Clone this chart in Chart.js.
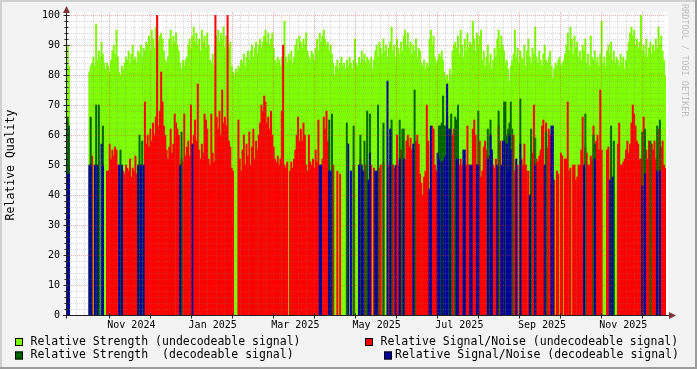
<!DOCTYPE html>
<html>
<head>
<meta charset="utf-8">
<title>Relative Quality</title>
<script src="https://cdn.jsdelivr.net/npm/chart.js@4.4.1/dist/chart.umd.min.js"></script>
<style>
  html, body { margin: 0; padding: 0; background: #f3f3f3; }
  canvas { display: block; }
</style>
</head>
<body>
<canvas id="qualityChart" width="697" height="369"></canvas>
<script>
// one value per day, index 0 = 2024-09-15 (null = no signal that day)
const strengthUndecoded = [
  90, 83, null, null, null, null, null, null, null, null,
  null, null, null, null, null, null, 81, 83, 84, 86,
  83, 97, 85, 88, 86, 91, 87, 84, 82, 84,
  83, 81, 85, 88, 90, 87, 95, 86, 81, 80,
  83, 82, 84, 86, 85, 88, 84, 87, 90, 85,
  86, 84, 88, 87, 90, 86, 89, 88, 91, 90,
  93, 88, 95, 92, 89, 96, 94, 91, 93, 94,
  92, 88, 85, 84, 86, 92, 95, 90, 93, 91,
  94, 90, 88, 84, 82, 85, 83, 85, 86, 90,
  92, 89, 93, 96, 91, 94, 90, 92, 88, 95,
  91, 93, 89, 94, 90, 85, 84, 87, 83, 90,
  93, 95, 91, 94, 92, 96, 89, 93, 90, 89,
  91, 83, 81, 80, 82, 81, 83, 82, 85, 84,
  87, 83, 86, 88, 85, 88, 90, 86, 89, 91,
  87, 90, 92, 89, 91, 93, 95, 91, 94, 90,
  92, 94, 89, 85, 84, 86, 85, 83, 86, 84,
  98, 86, 84, 87, 85, 88, 84, 86, 90, 92,
  88, 93, 91, 89, 92, 90, 94, 88, 86, 85,
  88, 87, 85, 89, 92, 88, 94, 91, 93, 95,
  92, 90, 91, 88, 90, 87, 84, 80, 83, 85,
  82, 84, 86, 83, 84, 82, 85, 83, 86, 84,
  82, 85, 92, 84, 83, 86, 84, 88, 85, 87,
  84, 86, 85, 84, 86, 82, 85, 88, 90, 86,
  91, 89, 87, 92, 88, 90, 86, 89, 91, 96,
  88, 90, 86, 92, 89, 87, 91, 88, 93, 95,
  90, 94, 89, 91, 87, 90, 88, 92, 86, 89,
  88, 84, 83, 85, 82, 84, 83, 92, 95, 90,
  93, 86, 84, 85, 87, 86, 88, 85, 81, 79,
  80, 78, 82, 80, 88, 90, 91, 89, 93, 87,
  95, 90, 86, 92, 88, 94, 89, 91, 90, 98,
  92, 88, 94, 90, 93, 95, 85, 88, 83, 86,
  90, 84, 87, 82, 85, 89, 86, 92, 95, 89,
  93, 90, 88, 84, 85, 82, 78, 83, 85, 87,
  95, 86, 89, 84, 88, 86, 85, 90, 83, 88,
  92, 86, 84, 89, 87, 96, 86, 84, 88, 85,
  83, 87, 90, 85, 84, 86, 88, 83, 79, 82,
  84, 83, 85, 86, 83, 84, 85, 87, 90, 94,
  88, 96, 92, 87, 93, 89, 91, 86, 88, 85,
  90, 88, 92, 84, 87, 83, 93, 86, 85, 88,
  84, 86, 83, 87, 98, 84, 86, 83, 88, 90,
  87, 91, 85, 88, 84, 86, 85, 83, 87, 84,
  86, 82, 85, 88, 91, 94, 96, 93, 95, 90,
  92, 89, 91, 100, 88, 90, 87, 92, 86, 89,
  91, 87, 90, 88, 92, 89, 96, 90, 93, 88,
  85, 80
];

const snrUndecoded = [
  61, null, null, null, null, null, null, null, null, null,
  null, null, null, null, null, null, null, null, 53, null,
  null, null, null, null, null, null, null, null, null, 48,
  48, 57, 52, 55, 53, 56, 55, 50, null, 48,
  null, 48, 47, 50, 49, 48, 52, 46, 49, 48,
  53, 47, null, 50, null, 49, null, 71, 57, 60,
  56, 62, 58, 64, 60, 66, 100, 63, 68, 81,
  71, 63, 60, 55, 52, 56, 62, 54, 57, 67,
  64, 62, 60, null, 52, 51, 67, 53, 56, 58,
  53, 70, null, 60, 65, 58, 77, 55, 52, 57,
  54, 67, 65, 62, 52, 50, 67, 54, 51, 100,
  66, 62, 68, 60, 75, 64, 66, 63, 100, 58,
  56, 49, 48, null, null, null, 65, 52, 48, 55,
  60, 50, 57, 53, 61, 50, 56, 62, 52, 58,
  55, 60, 64, 70, 68, 73, 71, 64, 66, 62,
  68, 60, 56, 52, 51, 53, 50, 52, 68, 90,
  50, 49, 51, null, 48, 51, 49, 52, 55, 60,
  66, 58, 62, 58, 64, 60, 50, 48, 60, 51,
  50, 52, 49, 55, 51, 65, null, null, 52, 66,
  62, 68, 58, null, null, 52, 50, null, null, 48,
  null, 47, null, null, null, null, null, null, null, null,
  null, 50, null, null, null, null, 52, null, null, null,
  50, null, null, null, 50, null, 49, null, null, 50,
  49, 50, null, 51, null, null, null, 50, null, null,
  50, 49, null, 60, 50, null, 55, 55, null, 52,
  58, 60, 56, 59, 55, null, null, 58, 60, 57,
  47, 44, 40, 46, 48, 70, 58, null, null, 63,
  62, 50, 48, null, null, null, null, null, null, null,
  null, null, null, null, 60, 62, null, null, null, 50,
  52, 50, null, null, 50, 63, 50, null, null, 62,
  65, 60, null, null, 58, 46, 48, 56, 58, 55,
  null, 53, null, null, 50, 49, 52, null, 63, 58,
  null, null, null, null, null, null, null, null, null, 60,
  48, null, 50, null, null, 52, 50, 57, 50, 48,
  48, null, 52, 54, 70, null, 52, 51, 53, 55,
  63, 65, null, 64, 56, 62, 60, null, null, 45,
  null, 48, 47, null, 54, 53, null, 52, 52, 71,
  48, 49, null, 50, 50, 45, 46, 50, 50, 55,
  66, null, 56, 54, 50, 50, 53, 52, 63, null,
  58, 60, 55, 75, 55, null, null, null, 55, 56,
  null, 52, null, null, null, null, 57, 64, 50, 50,
  51, 52, 55, 58, 54, 57, 64, 70, 67, 63,
  58, 57, 52, 52, null, 66, null, 55, 52, 58,
  null, 57, 55, 58, 52, null, 62, null, 56, 58,
  50, 49
];

// decodeable signal only shows up on some days: [day index, value]
const strengthDecoded = [
  [0, 66], [1, 63], [17, 66], [21, 70], [23, 70], [26, 63], [39, 55], [53, 60], [55, 58],
  [84, 61], [193, 65], [195, 67], [206, 64], [211, 63], [216, 60], [219, 58], [221, 68],
  [223, 67], [229, 70], [233, 64], [239, 65], [245, 65], [247, 62], [248, 62], [256, 75],
  [274, 63], [275, 63], [276, 64], [277, 73], [278, 63], [279, 63], [280, 66], [281, 62],
  [283, 67], [286, 66], [287, 65], [288, 70], [303, 68], [310, 62], [312, 65], [318, 68],
  [322, 71], [323, 71], [324, 60], [325, 62], [326, 64], [327, 71], [328, 62], [334, 72],
  [342, 62], [345, 59], [353, 61], [382, 67], [388, 60], [389, 57], [401, 63], [403, 58],
  [424, 61], [426, 62], [430, 58], [435, 63], [437, 65]
];

const snrDecoded = [
  [0, 47], [1, 47], [16, 50], [17, 50], [20, 50], [22, 50], [25, 57], [26, 50], [38, 50],
  [40, 50], [52, 50], [54, 50], [56, 50], [83, 50], [92, 57], [186, 50], [187, 50],
  [193, 48], [194, 48], [207, 57], [209, 48], [215, 50], [217, 50], [218, 48], [222, 45],
  [223, 54], [227, 48], [228, 48], [236, 78], [238, 62], [242, 50], [245, 52], [248, 52],
  [255, 57], [267, 42], [268, 63], [273, 54], [274, 52], [276, 51], [278, 52], [279, 53],
  [280, 77], [282, 62], [287, 52], [288, 52], [292, 55], [293, 55], [297, 50], [298, 50],
  [302, 50], [303, 50], [310, 52], [312, 60], [313, 55], [317, 50], [320, 50], [321, 58],
  [322, 58], [324, 57], [325, 48], [326, 60], [327, 55], [331, 52], [334, 57], [341, 40],
  [345, 50], [352, 50], [357, 63], [358, 63], [381, 50], [389, 52], [400, 45], [402, 46],
  [424, 43], [426, 47], [435, 48], [437, 48]
];

// x axis labels (day index of the 1st of the month) and the red grid lines
const monthLabels = ['Nov 2024', 'Jan 2025', 'Mar 2025', 'May 2025', 'Jul 2025', 'Sep 2025', 'Nov 2025'];
const monthTicks = [47, 107, 168, 228, 289, 350, 410];
const majorGrid = [30.5, 60.8, 91, 121.3, 151.5, 181.8, 212, 242.3, 272.5, 302.8, 333, 363.3, 393.5, 423.8];

const seriesLabels = [
  'Relative Strength (undecodeable signal)',
  'Relative Signal/Noise (undecodeable signal)',
  'Relative Strength  (decodeable signal)',
  'Relative Signal/Noise (decodeable signal)'
];
const seriesColors = ['#7fff00', '#ff0000', '#006600', '#000099'];

const FONT = '"DejaVu Sans Mono", "Liberation Mono", monospace';

function daily(values) {
  return values.map((v, i) => ({ x: i, y: v })).filter(p => p.y !== null);
}
function sparse(pairs) {
  return pairs.map(([i, v]) => ({ x: i, y: v }));
}

function barSet(idx, data, order) {
  return {
    label: seriesLabels[idx],
    data: data,
    backgroundColor: seriesColors[idx],
    borderWidth: 0,
    grouped: false,
    barPercentage: 1,
    categoryPercentage: 1,
    order: order
  };
}

// rrdtool look: grey frame, white canvas, dotted grid drawn over the areas, arrows
const rrdLook = {
  id: 'rrdLook',
  beforeDraw(chart) {
    const { ctx, chartArea: a } = chart;
    ctx.save();
    ctx.fillStyle = '#f3f3f3';
    ctx.fillRect(0, 0, chart.width, chart.height);
    ctx.fillStyle = '#d0d0d0';
    ctx.fillRect(0, 0, chart.width, 2);
    ctx.fillRect(0, 0, 2, chart.height);
    ctx.fillStyle = '#9c9c9c';
    ctx.fillRect(0, chart.height - 2, chart.width, 2);
    ctx.fillRect(chart.width - 2, 0, 2, chart.height);
    ctx.fillStyle = '#ffffff';
    ctx.fillRect(a.left, 12, a.right + 2 - a.left, a.bottom - 12);
    ctx.restore();
  },
  afterDatasetsDraw(chart) {
    const { ctx, chartArea: a, scales } = chart;
    const xs = scales.x, ys = scales.y;
    const top = 12;
    ctx.save();
    ctx.lineWidth = 1;
    ctx.setLineDash([1, 1]);

    // minor grid
    ctx.strokeStyle = 'rgba(128,128,128,0.3)';
    ctx.beginPath();
    for (let v = 2; v < 100; v += 2) {
      if (v % 10 === 0) continue;
      const y = Math.round(ys.getPixelForValue(v)) + 0.5;
      ctx.moveTo(a.left, y); ctx.lineTo(a.right, y);
    }
    const step = (majorGrid[1] - majorGrid[0]) / 5;
    const minor = [];
    for (let k = 1; k < 5; k++) minor.push(majorGrid[0] - k * step);
    majorGrid.forEach(m => { for (let k = 1; k < 5; k++) minor.push(m + k * step); });
    minor.filter(v => v > xs.min + 1 && v < xs.max).forEach(v => {
      const x = Math.round(xs.getPixelForValue(v)) + 0.5;
      ctx.moveTo(x, top); ctx.lineTo(x, a.bottom);
    });
    ctx.stroke();

    // major grid
    ctx.strokeStyle = 'rgba(220,60,60,0.42)';
    ctx.beginPath();
    for (let v = 10; v <= 100; v += 10) {
      const y = Math.round(ys.getPixelForValue(v)) + 0.5;
      ctx.moveTo(a.left, y); ctx.lineTo(a.right, y);
    }
    majorGrid.forEach(v => {
      const x = Math.round(xs.getPixelForValue(v)) + 0.5;
      ctx.moveTo(x, top); ctx.lineTo(x, a.bottom);
    });
    ctx.stroke();
    ctx.setLineDash([]);

    // axes and tick marks
    const ax = a.left - 0.5, ay = a.bottom + 0.5;
    ctx.strokeStyle = '#202020';
    ctx.beginPath();
    ctx.moveTo(ax, ay + 3); ctx.lineTo(ax, 10);
    ctx.moveTo(a.left - 4, ay); ctx.lineTo(a.right + 3, ay);
    for (let v = 0; v <= 100; v += 2) {
      const y = Math.round(ys.getPixelForValue(v)) + 0.5;
      const len = v % 10 === 0 ? 3 : 2;
      ctx.moveTo(ax - len, y); ctx.lineTo(ax + len, y);
    }
    majorGrid.forEach(v => {
      const x = Math.round(xs.getPixelForValue(v)) + 0.5;
      ctx.moveTo(x, ay - 2); ctx.lineTo(x, ay + 3);
    });
    ctx.stroke();

    ctx.fillStyle = '#7f3333';
    ctx.beginPath();
    ctx.moveTo(ax, 6); ctx.lineTo(ax - 3.5, 13); ctx.lineTo(ax + 3.5, 13); ctx.closePath();
    ctx.fill();
    ctx.beginPath();
    ctx.moveTo(a.right + 10, ay); ctx.lineTo(a.right + 3, ay - 3.5); ctx.lineTo(a.right + 3, ay + 3.5); ctx.closePath();
    ctx.fill();
    ctx.restore();
  },
  afterDraw(chart) {
    const { ctx } = chart;
    ctx.save();

    // unit label
    ctx.fillStyle = '#000';
    ctx.font = '11.5px ' + FONT;
    ctx.textAlign = 'center';
    ctx.textBaseline = 'middle';
    ctx.translate(11.5, 165);
    ctx.rotate(-Math.PI / 2);
    ctx.fillText('Relative Quality', 0, 0);
    ctx.setTransform(1, 0, 0, 1, 0, 0);

    // watermark
    ctx.fillStyle = '#bdbdbd';
    ctx.font = '8.5px ' + FONT;
    ctx.textAlign = 'left';
    ctx.translate(684.5, 4);
    ctx.rotate(Math.PI / 2);
    ctx.fillText('RRDTOOL / TOBI OETIKER', 0, 0);
    ctx.setTransform(1, 0, 0, 1, 0, 0);

    // legend, two justified rows
    const slots = [
      { box: 15, text: 30.5, y: 342 },
      { box: 365, text: 380.5, y: 342 },
      { box: 15, text: 30.5, y: 355.5 },
      { box: 384, text: 395, y: 355.5 }
    ];
    ctx.font = '11.5px ' + FONT;
    ctx.textAlign = 'left';
    ctx.textBaseline = 'middle';
    chart.data.datasets.forEach((ds, i) => {
      const s = slots[i];
      ctx.fillStyle = ds.backgroundColor;
      ctx.fillRect(s.box, s.y - 4, 8, 8);
      ctx.strokeStyle = '#000';
      ctx.lineWidth = 1;
      ctx.strokeRect(s.box + 0.5, s.y - 3.5, 7, 7);
      ctx.fillStyle = '#000';
      ctx.fillText(ds.label, s.text, s.y);
    });
    ctx.restore();
  }
};

new Chart(document.getElementById('qualityChart').getContext('2d'), {
  type: 'bar',
  data: {
    datasets: [
      barSet(0, daily(strengthUndecoded), 4),
      barSet(1, daily(snrUndecoded), 3),
      barSet(2, sparse(strengthDecoded), 2),
      barSet(3, sparse(snrDecoded), 1)
    ]
  },
  options: {
    responsive: false,
    animation: false,
    devicePixelRatio: 1,
    layout: { padding: { left: 0, right: 31, top: 15, bottom: 34 } },
    plugins: {
      legend: { display: false },
      tooltip: { enabled: false }
    },
    scales: {
      x: {
        type: 'linear',
        min: -0.5,
        max: 441.5,
        offset: false,
        grid: { display: false, drawTicks: false },
        border: { display: false },
        afterBuildTicks: scale => { scale.ticks = monthTicks.map(v => ({ value: v })); },
        afterFit: scale => { scale.height = 20; },
        ticks: {
          autoSkip: false,
          maxRotation: 0,
          padding: 4,
          color: '#000',
          font: { family: FONT, size: 10 },
          callback: (value, index) => monthLabels[index]
        }
      },
      y: {
        min: 0,
        max: 100,
        grid: { display: false, drawTicks: false },
        border: { display: false },
        afterFit: scale => { scale.width = 67; },
        ticks: {
          stepSize: 10,
          padding: 7,
          color: '#000',
          font: { family: FONT, size: 10 }
        }
      }
    }
  },
  plugins: [rrdLook]
});
</script>
</body>
</html>
